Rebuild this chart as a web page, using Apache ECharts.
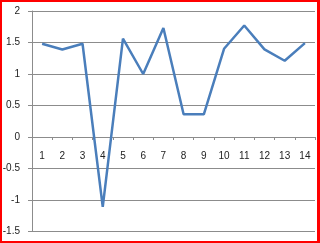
<!DOCTYPE html>
<html><head><meta charset="utf-8">
<script src="https://cdn.jsdelivr.net/npm/echarts@6/dist/echarts.min.js"></script>
<style>
html,body{margin:0;padding:0;background:#fff;}
#frame{width:320px;height:243px;box-sizing:border-box;border:2px solid #ff0000;border-right-width:3px;position:relative;background:#fff;}
#c{position:absolute;left:-2px;top:-2px;width:320px;height:243px;}
</style></head>
<body>
<div id="frame"><div id="c"></div></div>
<script>
const categories = ['1','2','3','4','5','6','7','8','9','10','11','12','13','14'];
const values = [1.48, 1.39, 1.48, -1.11, 1.56, 1.0, 1.73, 0.36, 0.36, 1.40, 1.77, 1.39, 1.21, 1.49];
const yTicks = [-1.5, -1, -0.5, 0, 0.5, 1, 1.5, 2];

const gridTop = 11, gridBottom = 11.5, H = 243;
const yMin = -1.5, yMax = 2;
const plotH = H - gridTop - gridBottom;
const zeroY = gridTop + (yMax / (yMax - yMin)) * plotH;
const xOffset = -((H - gridBottom) - zeroY);

const chart = echarts.init(document.getElementById('c'), null, {renderer:'canvas'});
chart.setOption({
  animation:false,
  grid:{left:32, right:5, top:gridTop, bottom:gridBottom, containLabel:false, outerBoundsMode:'none'},
  xAxis:{
    type:'category', data:categories, boundaryGap:true, offset:xOffset,
    axisLine:{onZero:false, lineStyle:{color:'#8c8c8c', width:1}},
    axisTick:{show:true, alignWithLabel:false, length:3, lineStyle:{color:'#8c8c8c'}},
    axisLabel:{color:'#222', fontSize:10, fontFamily:'Liberation Sans', margin:14}
  },
  yAxis:{
    type:'value', min:yMin, max:yMax, interval:0.5,
    axisLine:{show:true, lineStyle:{color:'#8c8c8c', width:1}},
    axisTick:{show:true, length:4, lineStyle:{color:'#8c8c8c'}},
    splitLine:{show:true, lineStyle:{color:'#8c8c8c', width:1}},
    axisLabel:{color:'#222', fontSize:10, fontFamily:'Liberation Sans', margin:12,
      formatter:function(v){ return yTicks.indexOf(v)>=0 ? String(v) : ''; }}
  },
  series:[{
    type:'line', data:values, symbol:'none',
    lineStyle:{color:'#4a7ebb', width:2.5}
  }]
});
</script>
</body></html>
